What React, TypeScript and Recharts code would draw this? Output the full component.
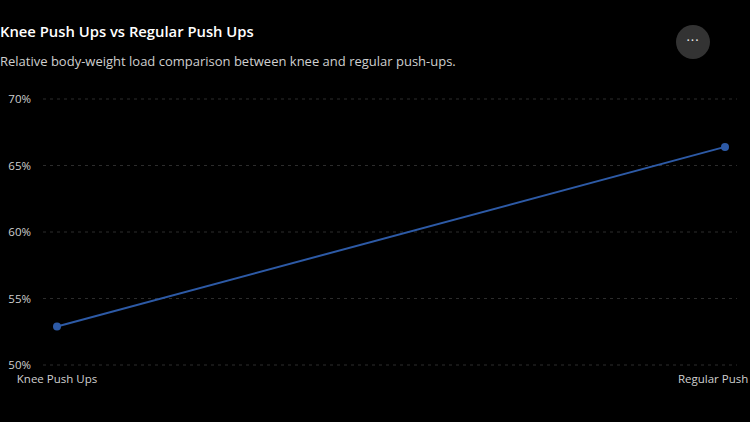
import { LineChart, Line, XAxis, YAxis, CartesianGrid } from 'recharts'

const categories = ['Knee Push Ups', 'Regular Push Ups']
const loadPct = [52.9, 66.4]
const yTicks = [50, 55, 60, 65, 70]

const chartData = categories.map((name, i) => ({ name, load: loadPct[i] }))

const FONT = '"Segoe UI", "Open Sans", "Noto Sans", sans-serif'

export default function App() {
  return (
    <div
      style={{
        position: 'relative',
        width: 750,
        height: 422,
        background: '#000',
        overflow: 'hidden',
        fontFamily: FONT,
      }}
    >
      <style>{'body { margin: 0; background: #000; }'}</style>
      <div
        style={{
          position: 'absolute',
          left: 0,
          top: 21,
          color: '#fff',
          fontSize: 14.8,
          fontWeight: 600,
        }}
      >
        Knee Push Ups vs Regular Push Ups
      </div>
      <div
        style={{
          position: 'absolute',
          left: 0,
          top: 52,
          color: '#cfcfcf',
          fontSize: 13,
        }}
      >
        Relative body-weight load comparison between knee and regular push-ups.
      </div>
      <div
        style={{
          position: 'absolute',
          left: 676,
          top: 25,
          width: 34,
          height: 34,
          borderRadius: '50%',
          background: '#333',
          color: '#eee',
          fontSize: 13,
          lineHeight: '31px',
          textAlign: 'center',
          letterSpacing: 1,
        }}
      >
        ···
      </div>
      <div style={{ position: 'absolute', left: 0, top: 0 }}>
        <LineChart
          width={750}
          height={422}
          data={chartData}
          margin={{ top: 99, right: 13, left: 0, bottom: 27 }}
        >
          <CartesianGrid
            vertical={false}
            stroke="#2c2c2c"
            strokeDasharray="3 4"
          />
          <XAxis
            dataKey="name"
            axisLine={false}
            tickLine={false}
            padding={{ left: 14, right: 12 }}
            tick={{ fill: '#cfcfcf', fontSize: 11.5, fontFamily: FONT }}
            tickMargin={4}
            interval={0}
          />
          <YAxis
            domain={[50, 70]}
            ticks={yTicks}
            width={43}
            axisLine={false}
            tickLine={false}
            tickFormatter={(v: number) => `${v}%`}
            tick={{ fill: '#cfcfcf', fontSize: 11.5, fontFamily: FONT }}
            tickMargin={6}
          />
          <Line
            type="linear"
            dataKey="load"
            stroke="#2d5aa6"
            strokeWidth={2}
            dot={{ r: 4, fill: '#2d5aa6', stroke: '#2d5aa6', strokeWidth: 0 }}
            isAnimationActive={false}
          />
        </LineChart>
      </div>
    </div>
  )
}
